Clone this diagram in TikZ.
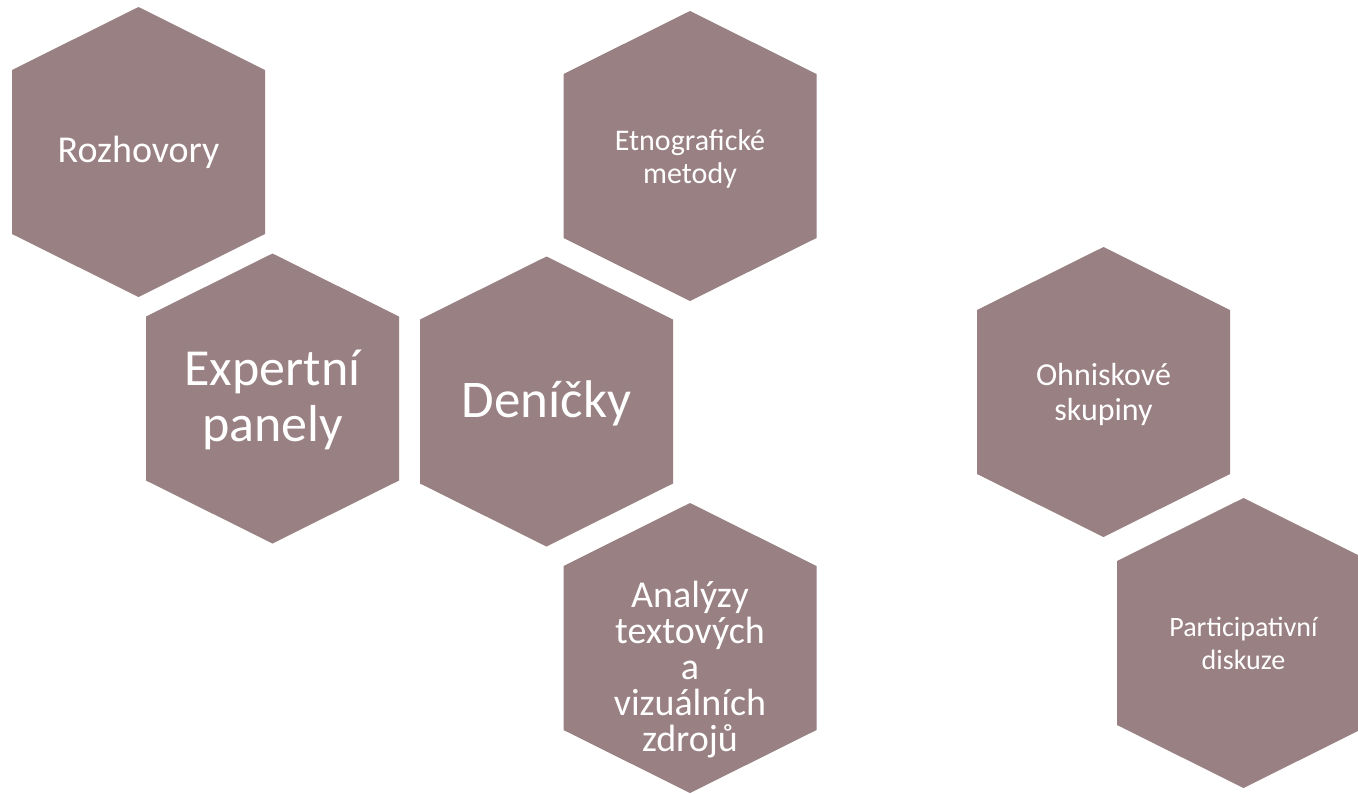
\documentclass[tikz,border=0pt]{standalone}
\usepackage{fontspec}
\setmainfont{Carlito}
\usetikzlibrary{calc,backgrounds}
\definecolor{mauve}{RGB}{153,128,131}

\begin{document}
\begin{tikzpicture}[x=1pt, y=-1pt,
                    hexlabel/.style = {align=center, text=white, inner sep=0pt},
                    hexfill/.style = {fill=mauve}]
\useasboundingbox (0,0) rectangle (1358,793);
% centres of the cells
\coordinate (h1) at (138.5,152);
\coordinate (h2) at (272.5,398.5);
\coordinate (h3) at (546.5,401.5);
\coordinate (h4) at (690,156);
\coordinate (h5) at (690,648);
\coordinate (h6) at (1103.5,392);
\coordinate (h7) at (1243.5,643);
\foreach \c in {h1,h2,h3,h4,h5,h6,h7}
  \fill[hexfill] (\c) ++(0,-145) -- ++(126.5,63) -- ++(0,164) -- ++(-126.5,63)
                 -- ++(-126.5,-63) -- ++(0,-164) -- cycle;
\node[hexlabel, font=\fontsize{38}{46}\selectfont] (rozhovory) at (h1) {Rozhovory};
\node[hexlabel, font=\fontsize{52}{56}\selectfont, shift={(0,1)}] (expertni) at (h2) {Expertní\\panely};
\node[hexlabel, font=\fontsize{53}{60}\selectfont, shift={(0,2)}] (denicky) at (h3) {Deníčky};
\node[hexlabel, font=\fontsize{30}{33}\selectfont, shift={(0,3)}] (etno) at (h4) {Etnografické\\metody};
\node[hexlabel, font=\fontsize{38}{36}\selectfont, shift={(0,22)}] (analyzy) at (h5)
  {Analýzy\\textových\\a\\vizuálních\\zdrojů};
\node[hexlabel, font=\fontsize{32}{35}\selectfont, shift={(0,2)}] (ohniskove) at (h6) {Ohniskové\\skupiny};
\node[hexlabel, font=\fontsize{28}{33}\selectfont] (particip) at (h7) {Participativní\\diskuze};
\end{tikzpicture}
\end{document}
